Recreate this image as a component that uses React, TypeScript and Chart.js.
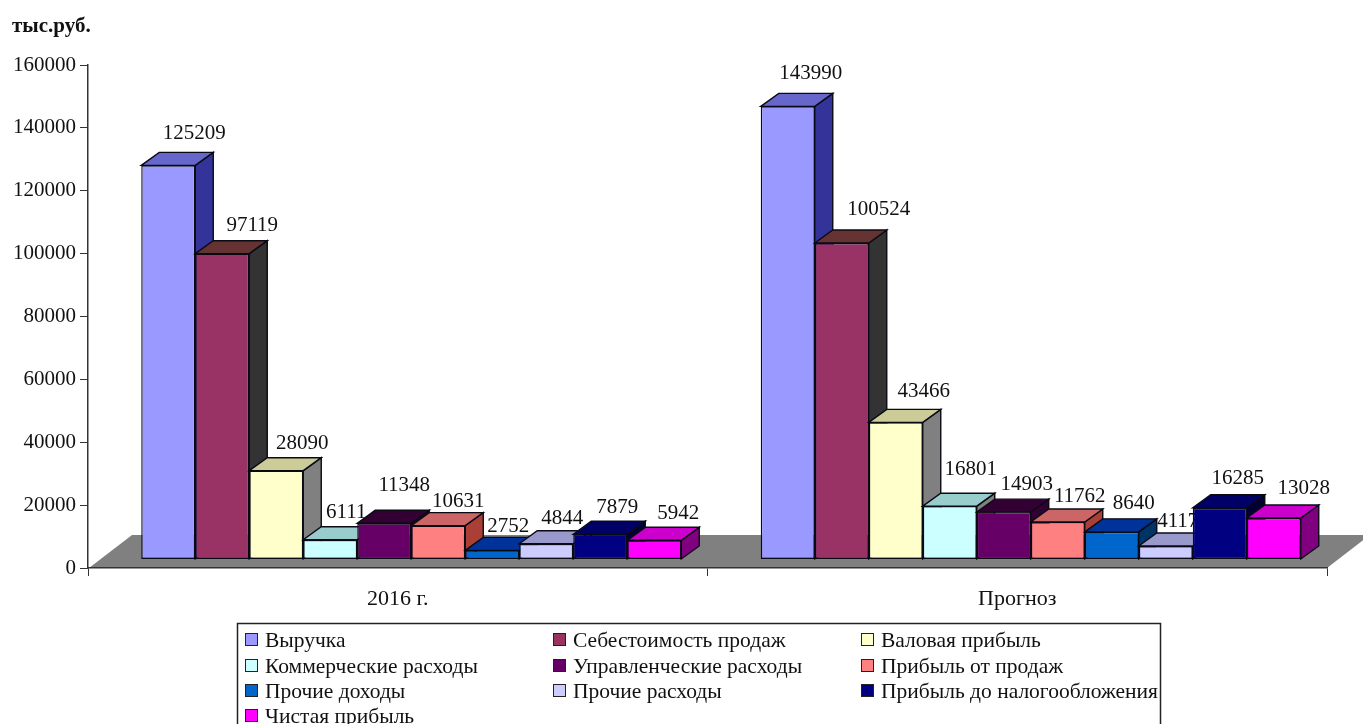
import { useEffect, useRef } from "react";
import { Chart, registerables } from "chart.js";

Chart.register(...registerables);

const periods = ["2016 г.", "Прогноз"];
const seriesNames = [
  "Выручка",
  "Себестоимость продаж",
  "Валовая прибыль",
  "Коммерческие расходы",
  "Управленческие расходы",
  "Прибыль от продаж",
  "Прочие доходы",
  "Прочие расходы",
  "Прибыль до налогообложения",
  "Чистая прибыль",
];
const values2016 = [125209, 97119, 28090, 6111, 11348, 10631, 2752, 4844, 7879, 5942];
const valuesForecast = [143990, 100524, 43466, 16801, 14903, 11762, 8640, 4117, 16285, 13028];
const yTickStep = 20000;
const yMax = 160000;

const frontColors = ["#9999FF", "#993366", "#FFFFCC", "#CCFFFF", "#660066", "#FF8080", "#0066CC", "#CCCCFF", "#000080", "#FF00FF"];
const topColors = ["#6666CC", "#663333", "#CCCC99", "#99CCCC", "#330033", "#CC6666", "#003399", "#9999CC", "#000066", "#CC00CC"];
const sideColors = ["#333399", "#333333", "#808080", "#808080", "#330033", "#AA4035", "#003366", "#666699", "#000033", "#800080"];

// Hand-placed value labels: offset from the front face's top centre, per period and series.
const labelShiftX = [
  [26, 30, 26, 16, 20, 20, 16, 16, 17, 24],
  [23, 37, 28, 21, 23, 22, 22, 12, 18, 30],
];
const labelShiftY = [
  [-32, -28, -27, -27, -38, -24, -24, -25, -27, -27],
  [-33, -33, -31, -37, -28, -26, -28, -25, -29, -30],
];

const FONT = '"Liberation Serif", "Times New Roman", serif';
const VALUE_SIZE = 21;
const LEGEND_SIZE = 21.5;
const CATEGORY_SIZE = 22;
const BAR_DX = 18;
const BAR_DY = 13;
const FLOOR_DX = 43;
const FLOOR_DY = 33;
const FRONT_SHIFT_X = 13.5;
const FRONT_LIFT = 2863; // value units the front plane of the bars sits above the axis
const EDGE = "#0a0a14";

// Grey floor of the pseudo-3D box, painted under the axes.
const floorPlugin = {
  id: "floor",
  beforeDraw(chart: any) {
    const { ctx, scales } = chart;
    const y0 = scales.y.getPixelForValue(0);
    const l = scales.x.left + 1;
    const r = scales.x.right;
    ctx.save();
    ctx.fillStyle = "#808080";
    ctx.beginPath();
    ctx.moveTo(l, y0);
    ctx.lineTo(l + FLOOR_DX, y0 - FLOOR_DY);
    ctx.lineTo(r + FLOOR_DX, y0 - FLOOR_DY);
    ctx.lineTo(r, y0);
    ctx.closePath();
    ctx.fill();
    ctx.restore();
  },
};

// Series go back to front, left to right: each one paints its depth faces, its
// native bar and its labels, so the next series may cover what came before.
const extrudedBarsPlugin = {
  id: "extrudedBars",
  beforeDatasetsDraw(chart: any) {
    const { ctx } = chart;
    ctx.save();
    ctx.translate(FRONT_SHIFT_X, 0);
    ctx.lineWidth = 1.4;
    ctx.strokeStyle = EDGE;
    chart.data.datasets.forEach((ds: any, i: number) => {
      const meta = chart.getDatasetMeta(i);
      meta.data.forEach((bar: any) => {
        const left = bar.x - bar.width / 2;
        const right = bar.x + bar.width / 2;
        const top = bar.y;
        const base = bar.base;
        ctx.fillStyle = sideColors[i];
        ctx.beginPath();
        ctx.moveTo(right, top);
        ctx.lineTo(right + BAR_DX, top - BAR_DY);
        ctx.lineTo(right + BAR_DX, base - BAR_DY);
        ctx.lineTo(right, base);
        ctx.closePath();
        ctx.fill();
        ctx.stroke();
        ctx.fillStyle = topColors[i];
        ctx.beginPath();
        ctx.moveTo(left, top);
        ctx.lineTo(left + BAR_DX, top - BAR_DY);
        ctx.lineTo(right + BAR_DX, top - BAR_DY);
        ctx.lineTo(right, top);
        ctx.closePath();
        ctx.fill();
        ctx.stroke();
      });
      meta.controller.draw();
      ctx.fillStyle = "#111";
      ctx.font = `${VALUE_SIZE}px ${FONT}`;
      ctx.textAlign = "center";
      ctx.textBaseline = "middle";
      meta.data.forEach((bar: any, p: number) => {
        ctx.fillText(String(ds.data[p]), bar.x + labelShiftX[p][i], bar.y + labelShiftY[p][i]);
      });
    });
    ctx.restore();
    return false;
  },
};

// Three-column boxed legend, running past the bottom of the canvas, plus the unit caption.
const legendPlugin = {
  id: "boxedLegend",
  afterDraw(chart: any) {
    const { ctx } = chart;
    const boxLeft = 237.5;
    const boxRight = 1160.5;
    const boxTop = 623.5;
    const colX = [245, 553, 861];
    const rowY = [640, 666, 691, 716];
    ctx.save();
    ctx.strokeStyle = "#222";
    ctx.lineWidth = 1.5;
    ctx.strokeRect(boxLeft, boxTop, boxRight - boxLeft, 130);
    ctx.font = `${LEGEND_SIZE}px ${FONT}`;
    ctx.textAlign = "left";
    ctx.textBaseline = "middle";
    chart.data.datasets.forEach((ds: any, i: number) => {
      const x = colX[i % 3];
      const y = rowY[Math.floor(i / 3)];
      ctx.fillStyle = ds.backgroundColor;
      ctx.fillRect(x + 0.5, y - 6.5, 12, 12);
      ctx.strokeStyle = "#222";
      ctx.lineWidth = 1;
      ctx.strokeRect(x + 0.5, y - 6.5, 12, 12);
      ctx.fillStyle = "#111";
      ctx.fillText(ds.label, x + 20, y + 1);
    });
    ctx.font = `bold ${VALUE_SIZE}px ${FONT}`;
    ctx.fillText("тыс.руб.", 12, 27);
    ctx.restore();
  },
};

export default function App() {
  const ref = useRef<HTMLCanvasElement>(null);
  useEffect(() => {
    const chart = new Chart(ref.current!, {
      type: "bar",
      data: {
        labels: periods,
        datasets: seriesNames.map((label, i) => ({
          label,
          data: [values2016[i], valuesForecast[i]],
          backgroundColor: frontColors[i],
          borderColor: EDGE,
          borderWidth: 1.4,
          borderSkipped: false,
          yAxisID: "yBars",
          categoryPercentage: 540 / 619.5,
          barPercentage: 1,
        })),
      },
      options: {
        animation: false,
        responsive: false,
        devicePixelRatio: 1,
        layout: { padding: { top: 65, right: 36, left: 0, bottom: 0 } },
        plugins: { legend: { display: false }, title: { display: false }, tooltip: { enabled: false } },
        scales: {
          x: {
            grid: { drawOnChartArea: false, color: "#333", tickLength: 8 },
            border: { color: "#333", width: 1.5 },
            ticks: { color: "#111", font: { family: FONT, size: CATEGORY_SIZE }, padding: 10, maxRotation: 0 },
            afterFit(scale: any) {
              scale.height = 156;
            },
          },
          y: {
            min: 0,
            max: yMax,
            ticks: {
              stepSize: yTickStep,
              color: "#111",
              font: { family: FONT, size: VALUE_SIZE },
              padding: 4,
              callback: (v: any) => String(v),
            },
            grid: { drawOnChartArea: false, color: "#333", tickLength: 8 },
            border: { color: "#333", width: 1.5 },
            afterFit(scale: any) {
              scale.width = 88;
            },
          },
          yBars: { display: false, min: -FRONT_LIFT, max: yMax - FRONT_LIFT },
        },
      },
      plugins: [floorPlugin, extrudedBarsPlugin, legendPlugin],
    } as any);
    return () => chart.destroy();
  }, []);
  return (
    <canvas
      ref={ref}
      width={1363}
      height={724}
      style={{ position: "absolute", left: 0, top: 0, display: "block" }}
    />
  );
}
